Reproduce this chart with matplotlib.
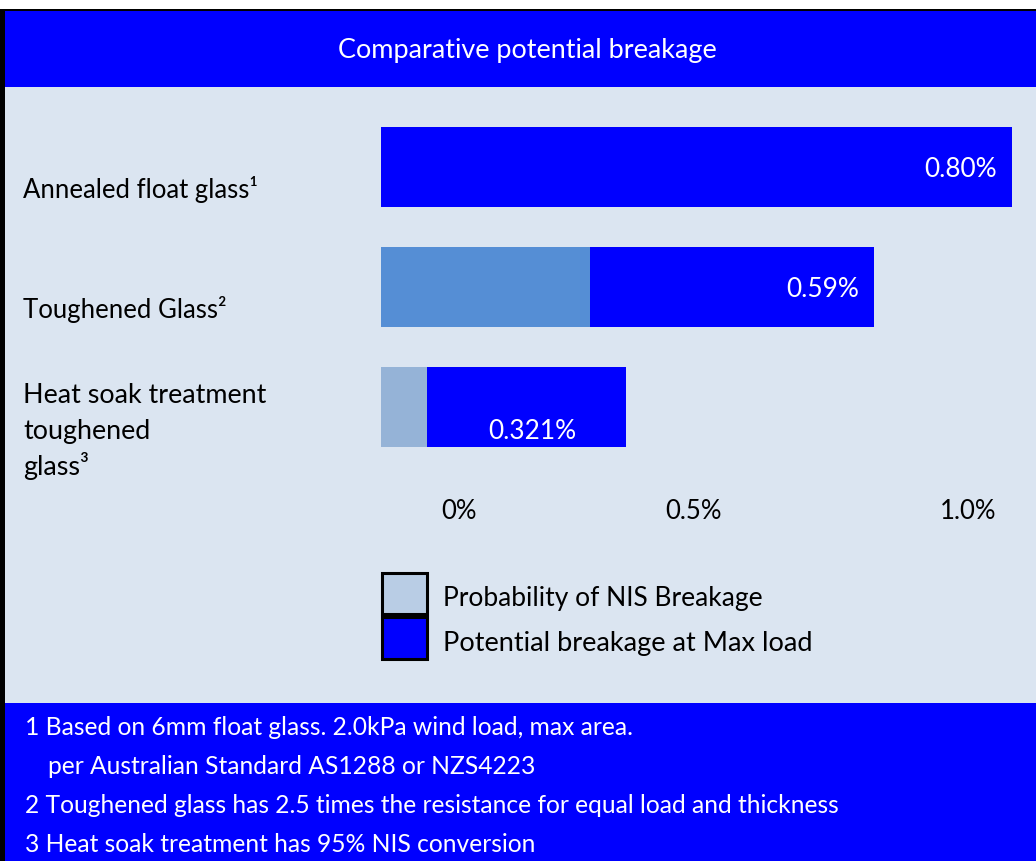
import matplotlib
matplotlib.use('Agg')
import matplotlib.pyplot as plt
from matplotlib.patches import Rectangle

# ---------------- data ----------------
title = "Comparative potential breakage"
categories = ["Annealed float glass¹", "Toughened Glass²", "Heat soak treatment\ntoughened\nglass³"]
nis_breakage = [0.0, 0.265, 0.058]          # light segment (%)
max_load_breakage = [0.80, 0.36, 0.253]     # dark segment (%)
value_labels = ["0.80%", "0.59%", "0.321%"]
tick_labels = ["0%", "0.5%", "1.0%"]
series_names = ["Probability of NIS Breakage", "Potential breakage at Max load"]
footnotes = [
    "1 Based on 6mm float glass. 2.0kPa wind load, max area.",
    "per Australian Standard AS1288 or NZS4223",
    "2 Toughened glass has 2.5 times the resistance for equal load and thickness",
    "3 Heat soak treatment has 95% NIS conversion",
]

# ---------------- style ----------------
plt.rcParams['font.family'] = ['Lato', 'DejaVu Sans']
BLUE = '#0000FF'
BG = '#DBE5F1'
nis_colors = ['#B9CDE5', '#558ED5', '#95B3D7']
legend_colors = ['#B9CDE5', BLUE]

W, H = 1036, 861
fig = plt.figure(figsize=(W / 100, H / 100), dpi=100)
fig.patch.set_facecolor('white')


def fx(px):
    return px / W


def fy(py):
    return 1 - py / H


def frect(x0, y0, x1, y1, **kw):
    r = Rectangle((fx(x0), fy(y1)), (x1 - x0) / W, (y1 - y0) / H,
                  transform=fig.transFigure, **kw)
    fig.add_artist(r)
    return r


# frame / panels
frect(0, 9, W, H, facecolor='black', edgecolor='none', zorder=0)
frect(5, 11, W, H, facecolor=BG, edgecolor='none', zorder=0)
frect(5, 11, W, 87, facecolor=BLUE, edgecolor='none', zorder=0)
frect(5, 703, W, H, facecolor=BLUE, edgecolor='none', zorder=0)

renderer = fig.canvas.get_renderer()


def fit(t, target):
    w = t.get_window_extent(renderer).width
    t.set_fontsize(t.get_fontsize() * target / w)
    return t.get_fontsize()


# ---------------- bars ----------------
ax = fig.add_axes([fx(381), fy(467), (1012 - 381) / W, 360 / H])
ax.set_facecolor('none')
totals = [a + b for a, b in zip(nis_breakage, max_load_breakage)]
ax.set_xlim(0, max(totals))
ax.set_ylim(2.5, -0.5)
ax.axis('off')
ypos = list(range(len(categories)))
ax.barh(ypos, nis_breakage, height=2 / 3, color=nis_colors, linewidth=0)
ax.barh(ypos, max_load_breakage, left=nis_breakage, height=2 / 3, color=BLUE, linewidth=0)

# value labels
val_texts = []
for i, (lab, n, m) in enumerate(zip(value_labels, nis_breakage, max_load_breakage)):
    if i < 2:
        t = ax.annotate(lab, xy=(n + m, i), xytext=(-15, -10), textcoords='offset pixels',
                        ha='right', va='baseline', color='white', fontsize=16)
    else:
        t = ax.annotate(lab, xy=(n + m / 2, i), xytext=(6, -32), textcoords='offset pixels',
                        ha='center', va='baseline', color='white', fontsize=16)
    val_texts.append(t)
vsize = fit(val_texts[0], 73)
for t in val_texts[1:]:
    t.set_fontsize(vsize)

# ---------------- text ----------------
t_title = fig.text(fx(527), fy(58), title, ha='center', va='baseline', color='white', fontsize=16)
fit(t_title, 381)

cat_base = [198, 318, 403]
t0 = fig.text(fx(23), fy(cat_base[0]), categories[0], ha='left', va='baseline', color='black', fontsize=16)
body = fit(t0, 236)
t1 = None
for cat, b in zip(categories[1:], cat_base[1:]):
    for k, line in enumerate(cat.split('\n')):
        tt = fig.text(fx(23), fy(b + 36 * k), line, ha='left', va='baseline', color='black', fontsize=body)
        if line.startswith('Heat'):
            t1 = tt
# scale heat-soak lines to match the reference width of its first line
hs = fit(t1, 243)
for tt in fig.texts:
    if tt.get_text() in categories[2].split('\n'):
        tt.set_fontsize(hs)

tick_x = [459, 693, 968]
for lab, x in zip(tick_labels, tick_x):
    fig.text(fx(x), fy(519), lab, ha='center', va='baseline', color='black', fontsize=body)

# legend
leg_y = [(571, 615), (615, 660)]
leg_w = [320, 369]
for name, col, (y0, y1), lw in zip(series_names, legend_colors, leg_y, leg_w):
    frect(381.5, y0 + 1.5, 426.5, y1 - 1.5, facecolor=col, edgecolor='black', linewidth=2.2, zorder=3)
    lt = fig.text(fx(443), fy(y1 - 9), name, ha='left', va='baseline', color='black', fontsize=body)
    fit(lt, lw)

# footnotes
foot_x = [25, 48, 25, 25]
foot_base = [735, 774, 813, 852]
fts = []
for txt, x, b in zip(footnotes, foot_x, foot_base):
    fts.append(fig.text(fx(x), fy(b), txt, ha='left', va='baseline', color='white', fontsize=body))
fsize = fit(fts[2], 814)
for t in fts:
    t.set_fontsize(fsize)

fig.savefig('out.png', dpi=100, facecolor=fig.get_facecolor())
